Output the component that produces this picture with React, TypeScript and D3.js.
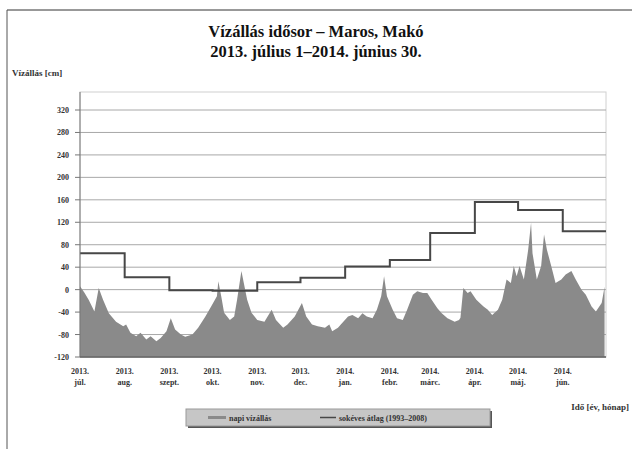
import React from 'react';
import * as d3 from 'd3';

// napi vízállás: day offset from 2013-07-01 and level [cm]
const levelDays = [
  0, 3, 6, 10, 13, 16, 20, 25, 30, 32, 35, 39, 42, 46, 49, 53, 56, 60, 63, 66,
  70, 73, 78, 82, 87, 91, 95, 96, 98, 100, 104, 107, 109, 112, 116, 119, 123, 128, 133, 136,
  141, 144, 149, 154, 157, 161, 165, 170, 173, 175, 179, 181, 186, 189, 193, 196, 199, 203, 206, 209,
  211, 213, 217, 220, 224, 227, 231, 234, 238, 241, 244, 248, 251, 255, 260, 263, 264, 266, 269, 271,
  275, 280, 283, 286, 290, 293, 296, 299, 301, 303, 305, 308, 311, 313, 314, 317, 320, 322, 324, 327,
  330, 334, 337, 341, 344, 348, 351, 355, 358, 362, 364,
];
const levelValues = [
  6, -5, -18, -39, 3, -18, -42, -57, -65, -62, -77, -83, -77, -89, -83, -92, -86, -74, -51, -71,
  -80, -84, -80, -68, -48, -30, -12, 15, -12, -41, -54, -48, -18, 33, -18, -41, -54, -57, -36, -54,
  -68, -62, -48, -24, -48, -62, -65, -68, -62, -74, -68, -62, -48, -45, -51, -42, -48, -51, -36, -12,
  24, -12, -36, -51, -54, -36, -9, -3, -6, -6, -18, -33, -42, -51, -57, -54, -50, 3, -6, -3,
  -18, -30, -36, -45, -36, -18, 18, 12, 42, 24, 42, 18, 71, 119, 65, 18, 42, 98, 71, 42,
  12, 18, 27, 33, 18, 0, -9, -30, -39, -24, 5,
];

// sokéves átlag (1993–2008), monthly
const monthStarts = [
  '2013-07-01', '2013-08-01', '2013-09-01', '2013-10-01', '2013-11-01', '2013-12-01',
  '2014-01-01', '2014-02-01', '2014-03-01', '2014-04-01', '2014-05-01', '2014-06-01',
];
const monthMeans = [65, 22, -1, -2, 13, 21, 41, 53, 101, 156, 142, 104];

const monthYears = ['2013.', '2013.', '2013.', '2013.', '2013.', '2013.', '2014.', '2014.', '2014.', '2014.', '2014.', '2014.'];
const monthNames = ['júl.', 'aug.', 'szept.', 'okt.', 'nov.', 'dec.', 'jan.', 'febr.', 'márc.', 'ápr.', 'máj.', 'jún.'];

const yTicks = [-120, -80, -40, 0, 40, 80, 120, 160, 200, 240, 280, 320];

const W = 632;
const H = 449;
const left = 80;
const right = 606;
const plotTop = 92;
const bottom = 357;

const parse = d3.timeParse('%Y-%m-%d');
const start = parse('2013-07-01') as Date;
const end = parse('2014-07-01') as Date;

const font = '"Liberation Serif", "Times New Roman", serif';

export default function App() {
  const x = d3.scaleTime().domain([start, end]).range([left, right]);
  const y = d3.scaleLinear().domain([-120, 320]).range([bottom, 110]);

  const daily = levelDays.map((d, i) => ({ date: d3.timeDay.offset(start, d), v: levelValues[i] }));
  const area = d3.area<{ date: Date; v: number }>()
    .x(d => x(d.date))
    .y0(y(-120))
    .y1(d => y(d.v));

  const means = monthStarts.map((m, i) => ({ date: parse(m) as Date, v: monthMeans[i] }));
  const stepData = [...means, { date: end, v: monthMeans[monthMeans.length - 1] }];
  const line = d3.line<{ date: Date; v: number }>()
    .x(d => x(d.date))
    .y(d => y(d.v))
    .curve(d3.curveStepAfter);

  return (
    <svg width={W} height={H} style={{ position: 'absolute', left: 0, top: 0, background: '#fff' }} fontFamily={font}>
      {/* frame */}
      <line x1={7} y1={10} x2={W} y2={10} stroke="#333" />
      <line x1={7} y1={10} x2={7} y2={H} stroke="#555" />

      <text x={316} y={37} textAnchor="middle" fontSize={16.5} fontWeight="bold" fill="#111">
        Vízállás idősor – Maros, Makó
      </text>
      <text x={316} y={57} textAnchor="middle" fontSize={16.5} fontWeight="bold" fill="#111">
        2013. július 1–2014. június 30.
      </text>

      <text x={12} y={76} fontSize={9} fontWeight="bold" fill="#333">Vízállás [cm]</text>

      {/* plot border */}
      <rect x={left} y={plotTop} width={right - left} height={bottom - plotTop} fill="none" stroke="#d0d0d0" />

      {yTicks.map(t => (
        <g key={t}>
          <line x1={left} x2={right} y1={y(t)} y2={y(t)} stroke="#a8a8a8" strokeWidth={1} />
          <line x1={left - 5} x2={left} y1={y(t)} y2={y(t)} stroke="#777" />
          <text x={69} y={y(t) + 3} textAnchor="end" fontSize={8} fontWeight="bold" fill="#333">{t}</text>
        </g>
      ))}

      <path d={area(daily) ?? ''} fill="#8a8a8a" />
      <path d={line(stepData) ?? ''} fill="none" stroke="#474747" strokeWidth={2} />

      <line x1={left} x2={left} y1={plotTop} y2={bottom} stroke="#777" />
      <line x1={left} x2={right} y1={bottom} y2={bottom} stroke="#666" strokeWidth={1.5} />

      {monthStarts.map((m, i) => {
        const cx = x(parse(m) as Date);
        return (
          <g key={m}>
            <text x={cx} y={374} textAnchor="middle" fontSize={8} fontWeight="bold" fill="#333">{monthYears[i]}</text>
            <text x={cx} y={385} textAnchor="middle" fontSize={8} fontWeight="bold" fill="#333">{monthNames[i]}</text>
          </g>
        );
      })}

      <text x={629} y={410} textAnchor="end" fontSize={9} fontWeight="bold" fill="#333">Idő [év, hónap]</text>

      {/* legend */}
      <rect x={188} y={411} width={304} height={17} fill="#555" />
      <rect x={186} y={409} width={304} height={17} fill="#c6c6c6" stroke="#999" />
      <line x1={208} x2={226} y1={417.5} y2={417.5} stroke="#8a8a8a" strokeWidth={3} />
      <text x={229} y={420.5} fontSize={8} fontWeight="bold" fill="#333">napi vízállás</text>
      <line x1={320} x2={336} y1={417.5} y2={417.5} stroke="#474747" strokeWidth={1.5} />
      <text x={339} y={420.5} fontSize={8} fontWeight="bold" fill="#333">sokéves átlag (1993–2008)</text>
    </svg>
  );
}
